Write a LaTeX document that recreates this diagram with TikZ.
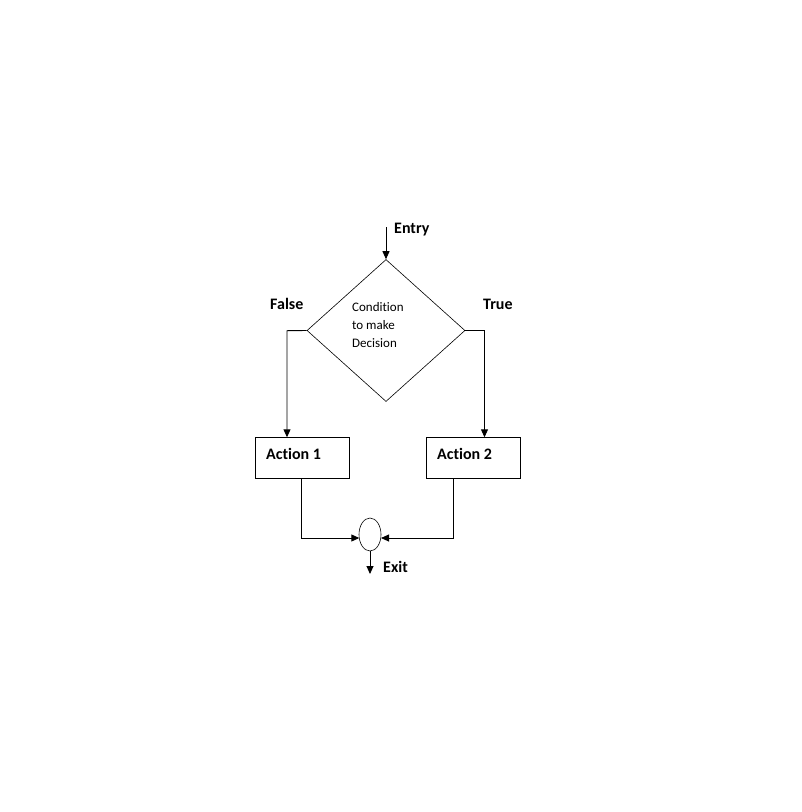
\documentclass[tikz,border=0pt]{standalone}
\usepackage{fontspec}
\setmainfont[Ligatures=NoCommon]{Carlito}
\usetikzlibrary{shapes.geometric,arrows.meta}
\begin{document}
\begin{tikzpicture}[x=1pt,y=-1pt,
  line/.style={draw=black,line width=0.9pt},
  arr/.style={line,-{Triangle[length=8pt,width=7pt]}},
  lbl/.style={font=\fontsize{16}{18}\selectfont\bfseries,inner sep=0pt,anchor=west},
  actbox/.style={draw=black,line width=0.9pt,minimum width=94pt,minimum height=41pt,inner sep=0pt},
  cond/.style={diamond,draw=black,line width=0.6pt,minimum width=158pt,minimum height=142pt,aspect=1.11,inner sep=0pt}]
\useasboundingbox (0,0) rectangle (802,812);
\fill[white] (0,0) rectangle (802,812);
\coordinate (entry) at (386,227);
\node[cond] (d) at (386,330.5) {};
\node[font=\fontsize{13}{18}\selectfont,align=left,anchor=west,inner sep=0pt] (ct) at (352,325) {Condition\\to make\\Decision};
\node[lbl] (en) at (394,229.5) {Entry};
\node[lbl] (fa) at (270,304) {False};
\node[lbl] (tr) at (483,304) {True};
\node[actbox] (a1) at (302,457.8) {};
\node[lbl] (a1t) at (266,454) {Action 1};
\node[actbox] (a2) at (473.2,457.8) {};
\node[lbl] (a2t) at (437,454) {Action 2};
\node[ellipse,draw=black,line width=0.6pt,minimum width=22pt,minimum height=33pt,inner sep=0pt] (ex) at (370,534.5) {};
\coordinate (exend) at (370,574);
\node[lbl] (ext) at (383,566.5) {Exit};
\draw[arr] (entry) -- (d.north);
\draw[arr] (d.west) -- (287,330.7) -- (287,437.3);
\draw[arr] (d.east) -- (484.5,330.5) -- (484.5,437.3);
\draw[arr] (301.7,478.3) -- (301.7,538) -- (359.3,538);
\draw[arr] (453.3,478.3) -- (453.3,538) -- (381,538);
\draw[arr] (ex.south) -- (exend);
\end{tikzpicture}
\end{document}
